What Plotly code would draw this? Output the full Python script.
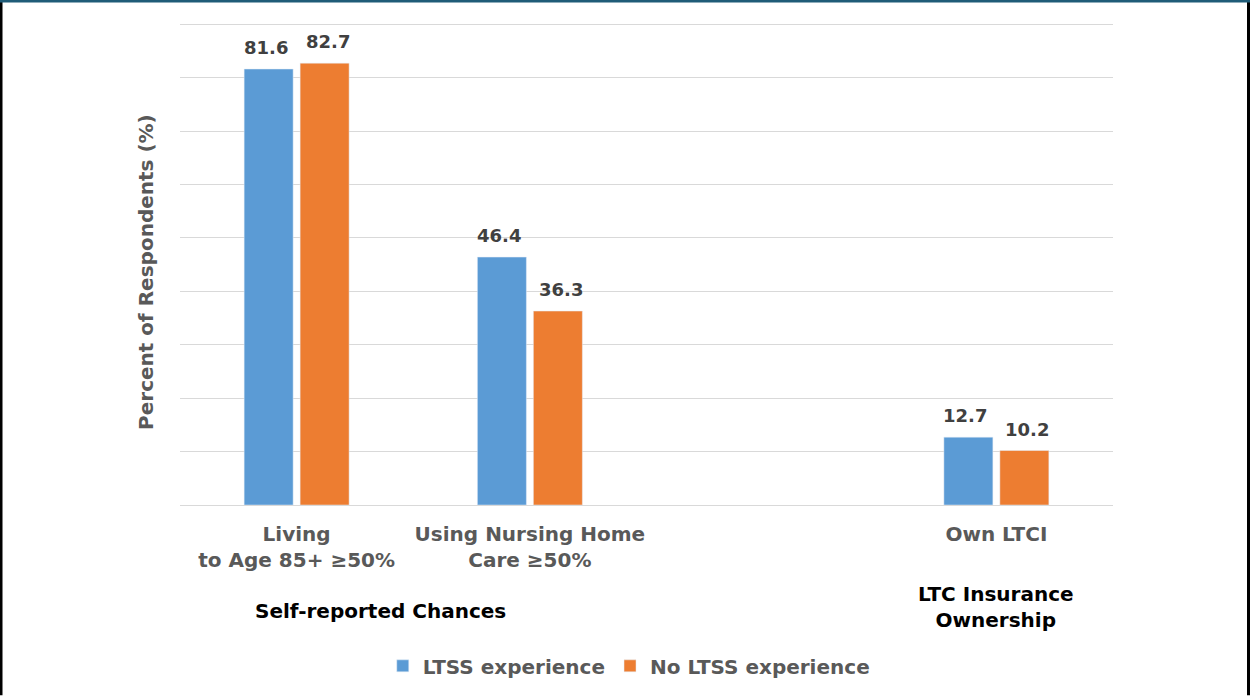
import plotly.graph_objects as go

categories = ["Living<br>to Age 85+ ≥50%", "Using Nursing Home<br>Care ≥50%", "Own LTCI"]
cat_positions = [0, 1, 3]
ltss = [81.6, 46.4, 12.7]
no_ltss = [82.7, 36.3, 10.2]
series_names = ["LTSS experience", "No LTSS experience"]
group_labels = ["Self-reported Chances", "LTC Insurance<br>Ownership"]
group_label_x = [0.36, 3]
group_label_y = [-0.219, -0.212]
y_title = "Percent of Respondents (%)"

BLUE = "#5B9BD5"
ORANGE = "#ED7D31"
GREY = "#595959"
FONT = "DejaVu Sans"

fig = go.Figure()
fig.add_trace(go.Bar(x=cat_positions, y=ltss, name=series_names[0], marker_color=BLUE))
fig.add_trace(go.Bar(x=cat_positions, y=no_ltss, name=series_names[1], marker_color=ORANGE))

annotations = []
for vals, shift in ((ltss, -31), (no_ltss, 31)):
    for xp, v in zip(cat_positions, vals):
        annotations.append(dict(x=xp, y=v, xref="x", yref="y", text=f"<b>{v:.1f}</b>",
                                showarrow=False, xshift=shift, yanchor="bottom", yshift=9,
                                font=dict(family=FONT, size=18, color="#404040")))
for t, xp, yp in zip(group_labels, group_label_x, group_label_y):
    annotations.append(dict(x=xp, y=yp, xref="x", yref="paper", text=f"<b>{t}</b>",
                            showarrow=False, yanchor="middle",
                            font=dict(family=FONT, size=20, color="#000000")))
annotations.append(dict(x=-34/933, y=0.4825, xref="paper", yref="paper",
                        text=f"<b>{y_title}</b>", textangle=-90, showarrow=False,
                        xanchor="center", yanchor="middle",
                        font=dict(family=FONT, size=20, color=GREY)))

fig.update_layout(
    width=1250, height=698,
    margin=dict(l=180, r=137, t=22, b=191),
    paper_bgcolor="white", plot_bgcolor="white",
    barmode="group", bargap=0.52, bargroupgap=0.125,
    font=dict(family=FONT, color=GREY),
    xaxis=dict(tickvals=cat_positions, ticktext=[f"<b>{c}</b>" for c in categories],
               range=[-0.5, 3.5], showgrid=False, zeroline=False, showline=False,
               tickfont=dict(size=20, color=GREY), ticks="", ticklabelstandoff=15),
    yaxis=dict(range=[0, 90.4], dtick=10, showticklabels=False, gridcolor="#D9D9D9",
               gridwidth=1, zeroline=True, zerolinecolor="#D9D9D9", zerolinewidth=1,
               showline=False),
    legend=dict(orientation="h", x=0.481, xanchor="center", y=-0.333, yanchor="middle",
                font=dict(family=FONT, size=20, color=GREY, weight="bold"), itemwidth=30,
                traceorder="normal"),
    annotations=annotations,
)

# page border
fig.add_shape(type="line", xref="paper", yref="paper",
              x0=-179/933, x1=-179/933, y0=-191/485, y1=1+22/485,
              line=dict(color="#000000", width=3))
fig.add_shape(type="line", xref="paper", yref="paper",
              x0=1+135.5/933, x1=1+135.5/933, y0=-191/485, y1=1+22/485,
              line=dict(color="#000000", width=3))
fig.add_shape(type="line", xref="paper", yref="paper",
              x0=-180/933, x1=1+137/933, y0=1+21/485, y1=1+21/485,
              line=dict(color="#1F5C78", width=3))

fig.write_html("out.html")
